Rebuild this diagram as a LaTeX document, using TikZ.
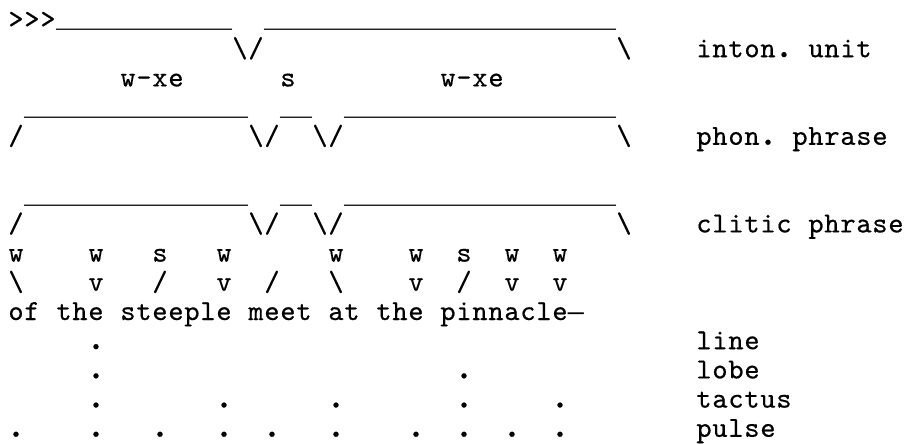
\documentclass[tikz,border=0pt]{standalone}
\usepackage{fontspec}
\setmonofont{lmmono10-regular.otf}[FakeBold=0.4]
\newfontfamily\ulfont{Liberation Mono}
\newcommand\bs{\textbackslash}
\newcommand\pd{\scalebox{1.4}{.}}
\newcommand\emd{{\ulfont\fontsize{26.67pt}{29.2pt}\selectfont —}}
\makeatletter
\newcommand\cells[1]{\@tfor\cellch:=#1\do{\makebox[16pt][c]{\cellch}}}
\makeatother
\newcommand\ul[1]{{\ulfont\fontsize{26.67pt}{29.2pt}\selectfont\count255=0 \loop\ifnum\count255<#1 \_\advance\count255 by 1 \repeat}}
\tikzset{txt/.style={anchor=base west, inner sep=0pt, outer sep=0pt,
  font=\ttfamily\fontsize{29pt}{29.2pt}\selectfont}}
\begin{document}
\begin{tikzpicture}
\useasboundingbox (0pt,0pt) rectangle (905pt,-444pt);
\begin{scope}[shift={(8pt,-28pt)}, x=16pt, y=-29.2pt]
% intonation unit
\node[txt] (q) at (0,0) {\cells{>>>}};
\node[txt] (iu1) at (3,0) {\ul{11}};
\node[txt] (iu2) at (16,0) {\ul{22}};
\node[txt] (iu3) at (14,1) {\cells{{\bs}/}};
\node[txt] (iu4) at (38,1) {\cells{{\bs}}};
\node[txt] (iul) at (43,1) {\cells{inton{\pd}~unit}};
\node[txt] (m1) at (7,2) {\cells{w-xe}};
\node[txt] (m2) at (17,2) {\cells{s}};
\node[txt] (m3) at (27,2) {\cells{w-xe}};
% phon. phrase
\node[txt] (ppa) at (1,3) {\ul{14}};
\node[txt] (ppb) at (17,3) {\ul{2}};
\node[txt] (ppc) at (21,3) {\ul{17}};
\node[txt] (ppd) at (0,4) {\cells{/}};
\node[txt] (ppe) at (15,4) {\cells{{\bs}/}};
\node[txt] (ppf) at (19,4) {\cells{{\bs}/}};
\node[txt] (ppg) at (38,4) {\cells{{\bs}}};
\node[txt] (ppl) at (43,4) {\cells{phon{\pd}~phrase}};
% clitic phrase
\node[txt] (cpa) at (1,6) {\ul{14}};
\node[txt] (cpb) at (17,6) {\ul{2}};
\node[txt] (cpc) at (21,6) {\ul{17}};
\node[txt] (cpd) at (0,7) {\cells{/}};
\node[txt] (cpe) at (15,7) {\cells{{\bs}/}};
\node[txt] (cpf) at (19,7) {\cells{{\bs}/}};
\node[txt] (cpg) at (38,7) {\cells{{\bs}}};
\node[txt] (cpl) at (43,7) {\cells{clitic~phrase}};
% syllables
\foreach \c/\t [count=\i] in {0/w,5/w,9/s,13/w,20/w,25/w,28/s,31/w,34/w}
  \node[txt] (s\i) at (\c,8) {\cells{\t}};
\node[txt] (f1) at (0,9) {\cells{{\bs}}};
\node[txt] (f2) at (5,9) {\cells{v}};
\node[txt] (f3) at (9,9) {\cells{/}};
\node[txt] (f4) at (13,9) {\cells{v}};
\node[txt] (f5) at (16,9) {\cells{/}};
\node[txt] (f6) at (20,9) {\cells{{\bs}}};
\node[txt] (f7) at (25,9) {\cells{v}};
\node[txt] (f8) at (28,9) {\cells{/}};
\node[txt] (f9) at (31,9) {\cells{v}};
\node[txt] (f10) at (34,9) {\cells{v}};
\node[txt] (verse) at (0,10) {\cells{of~the~steeple~meet~at~the~pinnacle{\emd}}};
% grid
\node[txt] (d1) at (5,11) {\cells{{\pd}}};
\node[txt] (lline) at (43,11) {\cells{line}};
\foreach \c [count=\i] in {5,28} \node[txt] (e\i) at (\c,12) {\cells{{\pd}}};
\node[txt] (llobe) at (43,12) {\cells{lobe}};
\foreach \c [count=\i] in {5,13,20,28,34} \node[txt] (t\i) at (\c,13) {\cells{{\pd}}};
\node[txt] (ltact) at (43,13) {\cells{tactus}};
\foreach \c [count=\i] in {0,5,9,13,16,20,25,28,31,34} \node[txt] (p\i) at (\c,14) {\cells{{\pd}}};
\node[txt] (lpulse) at (43,14) {\cells{pulse}};
\end{scope}
\end{tikzpicture}
\end{document}
